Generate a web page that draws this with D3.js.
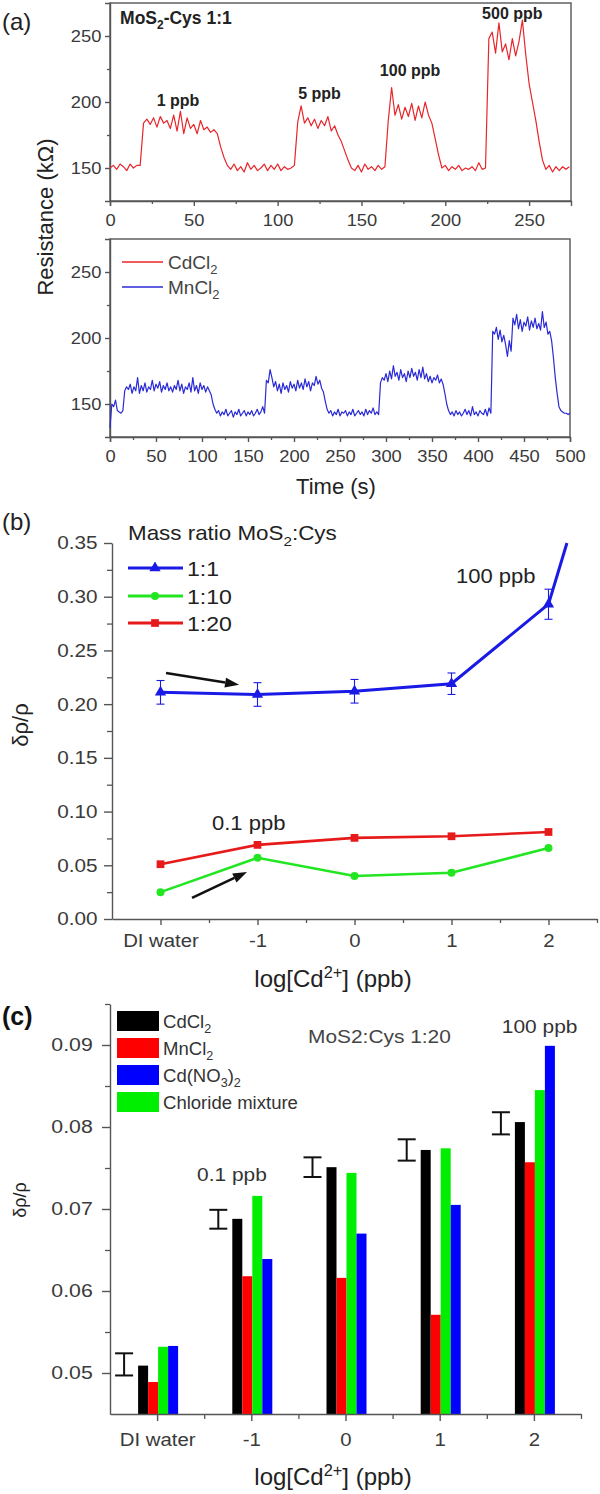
<!DOCTYPE html>
<html><head><meta charset="utf-8">
<script src="https://cdn.jsdelivr.net/npm/d3@7"></script>
<style>body{margin:0;background:#fff}svg{display:block}text{font-family:"Liberation Sans",Arial,sans-serif}</style>
</head><body><svg id="fig" width="600" height="1494"></svg>
<script>
// ---------------- DATA ----------------
// (a) top: CdCl2 response, MoS2-Cys 1:1  [time s, resistance kOhm]
const cdcl2Trace = [[0,150],[2,152],[4,149],[6,153],[8,151],[10,148],[12,153],[14,150],[16,152],[18,152],[20,184],[22,187],[24,183],[26,188],[28,181],[30,189],[32,184],[34,186],[36,180],[38,190],[40,178],[42,193],[44,176],[46,188],[48,180],[50,183],[52,176],[54,186],[56,179],[58,181],[60,177],[62,179],[64,176],[66,166],[68,158],[70,152],[72,149],[74,153],[76,148],[78,151],[80,147],[82,154],[84,149],[86,152],[88,148],[90,150],[92,153],[94,148],[96,152],[98,149],[100,153],[102,148],[104,151],[106,149],[108,150],[110,152],[112,185],[114,197],[116,184],[118,188],[120,182],[122,187],[124,180],[126,186],[128,182],[130,189],[132,178],[134,182],[136,175],[138,170],[140,163],[142,156],[144,150],[146,148],[148,152],[150,147],[152,153],[154,149],[156,151],[158,148],[160,152],[162,149],[164,151],[166,186],[168,211],[170,190],[172,198],[174,187],[176,196],[178,189],[180,199],[182,186],[184,197],[186,188],[188,200],[190,190],[192,184],[194,172],[196,160],[198,150],[200,152],[202,148],[204,151],[206,149],[208,152],[210,148],[212,150],[214,149],[216,151],[218,148],[220,154],[222,149],[224,150],[226,248],[228,253],[230,237],[232,260],[234,238],[236,244],[238,232],[240,248],[242,235],[244,246],[246,262],[248,236],[250,214],[252,200],[254,186],[256,170],[258,156],[260,149],[262,152],[264,147],[266,151],[268,148],[270,151],[272,149],[274,151]];
// (a) bottom: MnCl2 response [time s, resistance kOhm]
const mncl2Trace = [[0,132],[2,150],[4,148],[6,153],[8,145],[10,144],[12,143],[14,145],[16,160],[18,163],[20,161],[22,165],[24,158],[26,163],[28,160],[30,170],[32,158],[34,164],[36,160],[38,166],[40,159],[42,163],[44,161],[46,168],[48,160],[50,165],[52,162],[54,167],[56,159],[58,164],[60,161],[62,166],[64,160],[66,163],[68,159],[70,164],[72,161],[74,168],[76,160],[78,165],[80,158],[82,163],[84,161],[86,166],[88,159],[90,170],[92,160],[94,164],[96,158],[98,166],[100,161],[102,164],[104,159],[106,163],[108,160],[110,157],[112,150],[114,146],[116,143],[118,145],[120,141],[122,144],[124,142],[126,146],[128,141],[130,143],[132,145],[134,140],[136,144],[138,142],[140,146],[142,141],[144,143],[146,145],[148,141],[150,144],[152,142],[154,145],[156,141],[158,143],[160,146],[162,142],[164,144],[166,148],[168,143],[170,168],[172,166],[174,176],[176,170],[178,163],[180,167],[182,160],[184,165],[186,158],[188,166],[190,161],[192,164],[194,159],[196,167],[198,162],[200,165],[202,160],[204,168],[206,162],[208,166],[210,161],[212,169],[214,163],[216,167],[218,160],[220,166],[222,164],[224,171],[226,165],[228,168],[230,162],[232,159],[234,152],[236,146],[238,143],[240,145],[242,141],[244,144],[246,142],[248,146],[250,141],[252,144],[254,143],[256,145],[258,141],[260,144],[262,142],[264,146],[266,141],[268,143],[270,145],[272,142],[274,144],[276,141],[278,146],[280,142],[282,145],[284,143],[286,147],[288,142],[290,144],[292,142],[294,166],[296,170],[298,168],[300,173],[302,167],[304,175],[306,169],[308,179],[310,171],[312,174],[314,168],[316,176],[318,170],[320,173],[322,167],[324,175],[326,170],[328,177],[330,171],[332,174],[334,168],[336,176],[338,170],[340,178],[342,169],[344,173],[346,167],[348,171],[350,166],[352,170],[354,168],[356,172],[358,166],[360,169],[362,165],[364,158],[366,150],[368,145],[370,142],[372,144],[374,141],[376,145],[378,142],[380,144],[382,141],[384,143],[386,146],[388,142],[390,145],[392,141],[394,148],[396,142],[398,144],[400,141],[402,145],[404,143],[406,142],[408,146],[410,141],[412,147],[414,143],[416,205],[418,203],[420,208],[422,199],[424,206],[426,197],[428,202],[430,195],[432,186],[434,198],[436,190],[438,215],[440,210],[442,218],[444,207],[446,214],[448,205],[450,212],[452,209],[454,216],[456,206],[458,213],[460,208],[462,215],[464,207],[466,211],[468,206],[470,220],[472,208],[474,212],[476,203],[478,205],[480,198],[482,185],[484,170],[486,158],[488,148],[490,145],[492,144],[494,143],[496,143],[498,142],[500,143]];
const aTopXTicks = [0,50,100,150,200,250];
const aBotXTicks = [0,50,100,150,200,250,300,350,400,450,500];
const aYTicks = [150,200,250];
const aTopLabels = [{t:"1 ppb",x:40.6,y:197},{t:"5 ppb",x:125,y:202},{t:"100 ppb",x:179,y:219.7},{t:"500 ppb",x:240,y:262.9}];

// (b) relative response vs log concentration
const bCategories = ["DI water","-1","0","1","2"];
const bPositions = [-2,-1,0,1,2];
const ratio11 = [0.211,0.209,0.212,0.219,0.293];
const ratio11Err = [0.011,0.011,0.011,0.010,0.014];
const ratio11Tail = [2.19,0.350];
const ratio110 = [0.025,0.057,0.040,0.043,0.066];
const ratio120 = [0.051,0.069,0.0755,0.077,0.081];
const bYTicks = [0,0.05,0.10,0.15,0.20,0.25,0.30,0.35];
const bArrows = [[-1.943,0.229,-1.19,0.218],[-1.675,0.0196,-1.108,0.0438]];

// (c) selectivity bars, MoS2:Cys 1:20
const cCategories = ["DI water","-1","0","1","2"];
const cSeries = ["CdCl2","MnCl2","Cd(NO3)2","Chloride mixture"];
const cCdCl2 = [0.0509,0.0688,0.0751,0.0772,0.0806];
const cMnCl2 = [0.0489,0.0618,0.0616,0.0571,0.0757];
const cCdNO3 = [0.0533,0.0639,0.0670,0.0705,0.0899];
const cChloride = [0.0532,0.0716,0.0744,0.0774,0.0845];
const cErrLow = [0.0497,0.0676,0.0739,0.0759,0.0791];
const cErrHigh = [0.0524,0.0699,0.0763,0.0785,0.0818];
const cYTicks = [0.05,0.06,0.07,0.08,0.09];

// ---------------- HELPERS ----------------
const svg = d3.select("#fig");
const AX = "#555", TX = "#3a3a3a";
function rich(sel, str, fs){
  const parts = str.split(/(_\{[^}]*\}|\^\{[^}]*\})/).filter(s=>s.length);
  let shift = 0;
  parts.forEach(p=>{
    let c=p, dy=0, size=fs;
    if(p.startsWith("_{")){c=p.slice(2,-1);dy=0.28*fs;size=0.68*fs;}
    else if(p.startsWith("^{")){c=p.slice(2,-1);dy=-0.38*fs;size=0.68*fs;}
    sel.append("tspan").attr("font-size",size).attr("dy",dy-shift).text(c);
    shift = dy;
  });
  return sel;
}
function txt(x,y,str,o={}){
  const fs=o.fs||16, k=o.k||1;
  const t = svg.append("text")
    .attr("transform",`translate(${x},${y}) rotate(${o.rot||0}) scale(${k},1)`)
    .attr("font-size",fs).attr("fill",o.fill||TX)
    .attr("font-weight",o.bold?"bold":"normal")
    .attr("text-anchor",o.anchor||"start");
  return rich(t,str,fs);
}
function styleAxis(g, fs, k){
  g.select(".domain").attr("stroke",AX).attr("stroke-width",1.4);
  g.selectAll(".tick line").attr("stroke",AX).attr("stroke-width",1.4);
  g.selectAll(".tick text").attr("font-size",fs).attr("fill",TX)
    .attr("font-family",'"Liberation Sans",Arial,sans-serif')
    .attr("transform",`scale(${k},1)`);
}
function minor(g){ g.select(".domain").remove(); g.selectAll("line").attr("stroke",AX).attr("stroke-width",1.3); g.selectAll("text").remove(); }

// ---------------- PANEL (a) ----------------
const xA1 = d3.scaleLinear([0,275],[110,571]);
const yA1 = d3.scaleLinear([125,275],[201,3]);
const xA2 = d3.scaleLinear([0,500],[110,570]);
const yA2 = d3.scaleLinear([125,275],[437,239]);

function panelA(x,y,ticks,minorX,trace,color){
  const [y0,y1]=y.range();
  svg.append("rect").attr("x",x.range()[0]).attr("y",y1).attr("width",x.range()[1]-x.range()[0]).attr("height",y0-y1)
    .attr("fill","none").attr("stroke",AX).attr("stroke-width",1.4);
  const gx = svg.append("g").attr("transform",`translate(0,${y0})`)
    .call(d3.axisBottom(x).tickValues(ticks).tickSize(5).tickPadding(8).tickFormat(d3.format("d")));
  styleAxis(gx,17,1.08);
  svg.append("g").attr("transform",`translate(0,${y0})`).call(d3.axisBottom(x).tickValues(minorX).tickSize(3)).call(minor);
  const gy = svg.append("g").attr("transform",`translate(${x.range()[0]},0)`)
    .call(d3.axisLeft(y).tickValues(aYTicks).tickSize(5).tickPadding(3).tickFormat(d3.format("d")));
  styleAxis(gy,17,1.08);
  svg.append("g").attr("transform",`translate(${x.range()[0]},0)`).call(d3.axisLeft(y).tickValues([175,225]).tickSize(3)).call(minor);
  svg.append("path").datum(trace)
    .attr("d",d3.line().x(d=>x(d[0])).y(d=>y(d[1])))
    .attr("fill","none").attr("stroke",color).attr("stroke-width",1.2).attr("stroke-linejoin","round");
}
panelA(xA1,yA1,aTopXTicks,[25,75,125,175,225],cdcl2Trace,"#e8262a");
panelA(xA2,yA2,aBotXTicks,[25,75,125,175,225,275,325,375,425,475],mncl2Trace,"#2a2ad6");

txt(2,30,"(a)",{fs:24,fill:"#222"});
txt(xA1(6),yA1(259),"MoS_{2}-Cys 1:1",{fs:17.5,bold:true,fill:"#222"});
aTopLabels.forEach(d=>txt(xA1(d.x),yA1(d.y),d.t,{fs:16,bold:true,anchor:"middle",fill:"#222"}));
// legend (a)
svg.append("line").attr("x1",122).attr("x2",163).attr("y1",262).attr("y2",262).attr("stroke","#e8262a").attr("stroke-width",1.3);
txt(168,269,"CdCl_{2}",{fs:19,fill:"#444"});
svg.append("line").attr("x1",122).attr("x2",163).attr("y1",287).attr("y2",287).attr("stroke","#2a2ad6").attr("stroke-width",1.3);
txt(168,294,"MnCl_{2}",{fs:19,fill:"#444"});
txt(53,217,"Resistance (kΩ)",{fs:22,rot:-90,anchor:"middle",fill:"#222"});
txt(336,494,"Time (s)",{fs:22,anchor:"middle",fill:"#222"});

// ---------------- PANEL (b) ----------------
const xB = d3.scaleLinear([-2.5,2.5],[112,597]);
const yB = d3.scaleLinear([0,0.35],[919,543]);
{
  const gx = svg.append("g").attr("transform",`translate(0,${yB(0)})`)
    .call(d3.axisBottom(xB).tickValues(bPositions).tickSize(6).tickPadding(9).tickSizeOuter(0).tickFormat((d,i)=>bCategories[i]));
  styleAxis(gx,18.5,1.1);
  svg.append("g").attr("transform",`translate(0,${yB(0)})`).call(d3.axisBottom(xB).tickValues([-1.5,-0.5,0.5,1.5,2.5]).tickSize(4)).call(minor);
  const gy = svg.append("g").attr("transform",`translate(${xB(-2.5)},0)`)
    .call(d3.axisLeft(yB).tickValues(bYTicks).tickSize(8).tickPadding(5).tickSizeOuter(0).tickFormat(d3.format(".2f")));
  styleAxis(gy,18.5,1.12);
  svg.append("g").attr("transform",`translate(${xB(-2.5)},0)`).call(d3.axisLeft(yB).tickValues([0.025,0.075,0.125,0.175,0.225,0.275,0.325]).tickSize(5)).call(minor);
}
const lineB = d3.line().x(d=>xB(d[0])).y(d=>yB(d[1]));
const BLUE="#1a1ae6", GREEN="#22e622", RED="#e61a1a";
// error bars 1:1
bPositions.forEach((p,i)=>{
  const g = svg.append("g").attr("stroke",BLUE).attr("stroke-width",1.1);
  g.append("line").attr("x1",xB(p)).attr("x2",xB(p)).attr("y1",yB(ratio11[i]-ratio11Err[i])).attr("y2",yB(ratio11[i]+ratio11Err[i]));
  [-1,1].forEach(s=>g.append("line").attr("x1",xB(p)-4).attr("x2",xB(p)+4).attr("y1",yB(ratio11[i]+s*ratio11Err[i])).attr("y2",yB(ratio11[i]+s*ratio11Err[i])));
});
const d11 = bPositions.map((p,i)=>[p,ratio11[i]]).concat([ratio11Tail]);
const d110 = bPositions.map((p,i)=>[p,ratio110[i]]);
const d120 = bPositions.map((p,i)=>[p,ratio120[i]]);
svg.append("path").datum(d120).attr("d",lineB).attr("fill","none").attr("stroke",RED).attr("stroke-width",2.6);
svg.append("path").datum(d110).attr("d",lineB).attr("fill","none").attr("stroke",GREEN).attr("stroke-width",2.6);
svg.append("path").datum(d11).attr("d",lineB).attr("fill","none").attr("stroke",BLUE).attr("stroke-width",3);
const tri = d3.symbol().type(d3.symbolTriangle).size(55);
const circ = d3.symbol().type(d3.symbolCircle).size(50);
const sq = d3.symbol().type(d3.symbolSquare).size(60);
svg.selectAll(".m11").data(bPositions).join("path").attr("d",tri).attr("fill",BLUE).attr("transform",(p,i)=>`translate(${xB(p)},${yB(ratio11[i])})`);
svg.selectAll(".m110").data(bPositions).join("path").attr("d",circ).attr("fill",GREEN).attr("transform",(p,i)=>`translate(${xB(p)},${yB(ratio110[i])})`);
svg.selectAll(".m120").data(bPositions).join("path").attr("d",sq).attr("fill",RED).attr("transform",(p,i)=>`translate(${xB(p)},${yB(ratio120[i])})`);
// arrows
bArrows.forEach(a=>{
  const x1=xB(a[0]),y1=yB(a[1]),x2=xB(a[2]),y2=yB(a[3]);
  const ang=Math.atan2(y2-y1,x2-x1), L=14, W=5;
  const bx=x2-L*Math.cos(ang), by=y2-L*Math.sin(ang);
  svg.append("line").attr("x1",x1).attr("y1",y1).attr("x2",bx).attr("y2",by).attr("stroke","#111").attr("stroke-width",2.6);
  svg.append("path").attr("fill","#111").attr("d",`M${x2},${y2}L${bx+W*Math.sin(ang)},${by-W*Math.cos(ang)}L${bx-W*Math.sin(ang)},${by+W*Math.cos(ang)}Z`);
});
// legend (b)
txt(128,540,"Mass ratio MoS_{2}:Cys",{fs:20,k:1.12,fill:"#222"});
[[BLUE,tri,"1:1",568],[GREEN,circ,"1:10",596],[RED,sq,"1:20",623]].forEach(([c,sym,l,yy])=>{
  svg.append("line").attr("x1",128).attr("x2",183).attr("y1",yy).attr("y2",yy).attr("stroke",c).attr("stroke-width",3);
  svg.append("path").attr("d",sym).attr("fill",c).attr("transform",`translate(155,${yy})`);
  txt(187,yy+8,l,{fs:21,k:1.1,fill:"#222"});
});
txt(xB(1.046),yB(0.313),"100 ppb",{fs:20,k:1.1,fill:"#222"});
txt(xB(-1.469),yB(0.083),"0.1 ppb",{fs:20,k:1.1,fill:"#222"});
txt(2,530,"(b)",{fs:24,fill:"#222"});
txt(28,725,"δρ/ρ",{fs:22,rot:-90,anchor:"middle",fill:"#222"});
txt(333,987,"log[Cd^{2+}] (ppb)",{fs:24,anchor:"middle",fill:"#222"});

// ---------------- PANEL (c) ----------------
const xC = d3.scaleLinear([-2.5,2.5],[110,581]);
const yC = d3.scaleLinear([0.045,0.095],[1414,1004]);
const barOrder = ["CdCl2","MnCl2","Chloride mixture","Cd(NO3)2"];
const inner = d3.scaleBand(barOrder,[-19,21]);
const cVals = {"CdCl2":cCdCl2,"MnCl2":cMnCl2,"Cd(NO3)2":cCdNO3,"Chloride mixture":cChloride};
const cColor = {"CdCl2":"#000000","MnCl2":"#ff0000","Cd(NO3)2":"#0000ff","Chloride mixture":"#00ee00"};
barOrder.forEach(s=>{
  svg.selectAll(null).data(cVals[s]).join("rect")
    .attr("x",(v,i)=>xC(bPositions[i])+inner(s)).attr("width",inner.bandwidth())
    .attr("y",v=>yC(v)).attr("height",v=>yC(0.045)-yC(v)).attr("fill",cColor[s]);
});
cErrLow.forEach((lo,i)=>{
  const cx = xC(bPositions[i])-33, g=svg.append("g").attr("stroke","#111").attr("stroke-width",2);
  g.append("line").attr("x1",cx).attr("x2",cx).attr("y1",yC(lo)).attr("y2",yC(cErrHigh[i]));
  [lo,cErrHigh[i]].forEach(v=>g.append("line").attr("x1",cx-9).attr("x2",cx+9).attr("y1",yC(v)).attr("y2",yC(v)));
});
{
  const gx = svg.append("g").attr("transform",`translate(0,${yC(0.045)})`)
    .call(d3.axisBottom(xC).tickValues(bPositions).tickSize(7).tickPadding(12).tickSizeOuter(0).tickFormat((d,i)=>cCategories[i]));
  styleAxis(gx,18.5,1.1);
  svg.append("g").attr("transform",`translate(0,${yC(0.045)})`).call(d3.axisBottom(xC).tickValues([-1.5,-0.5,0.5,1.5,2.5]).tickSize(5)).call(minor);
  const gy = svg.append("g").attr("transform",`translate(${xC(-2.5)},0)`)
    .call(d3.axisLeft(yC).tickValues(cYTicks).tickSize(8).tickPadding(7).tickSizeOuter(0).tickFormat(d3.format(".2f")));
  styleAxis(gy,18.5,1.15);
  svg.append("g").attr("transform",`translate(${xC(-2.5)},0)`).call(d3.axisLeft(yC).tickValues([0.055,0.065,0.075,0.085,0.095]).tickSize(5)).call(minor);
}
// legend (c)
cSeries.forEach((s,i)=>{
  const yy=[1011,1038,1065,1092][i];
  svg.append("rect").attr("x",117).attr("y",yy).attr("width",42).attr("height",20).attr("fill",cColor[s]);
  const lab = {"CdCl2":"CdCl_{2}","MnCl2":"MnCl_{2}","Cd(NO3)2":"Cd(NO_{3})_{2}","Chloride mixture":"Chloride mixture"}[s];
  txt(163,yy+17,lab,{fs:18,k:1.03,fill:"#333"});
});
txt(xC(-0.398),yC(0.0902),"MoS2:Cys 1:20",{fs:19,k:1.1,fill:"#444"});
txt(xC(1.66),yC(0.0915),"100 ppb",{fs:19,k:1.1,fill:"#333"});
txt(xC(-1.576),yC(0.0734),"0.1 ppb",{fs:19,k:1.1,fill:"#333"});
txt(2,1025,"(c)",{fs:25,bold:true,fill:"#111"});
txt(26,1200,"δρ/ρ",{fs:18,rot:-90,anchor:"middle",fill:"#222"});
txt(333,1485,"log[Cd^{2+}] (ppb)",{fs:24,anchor:"middle",fill:"#222"});
</script></body></html>
